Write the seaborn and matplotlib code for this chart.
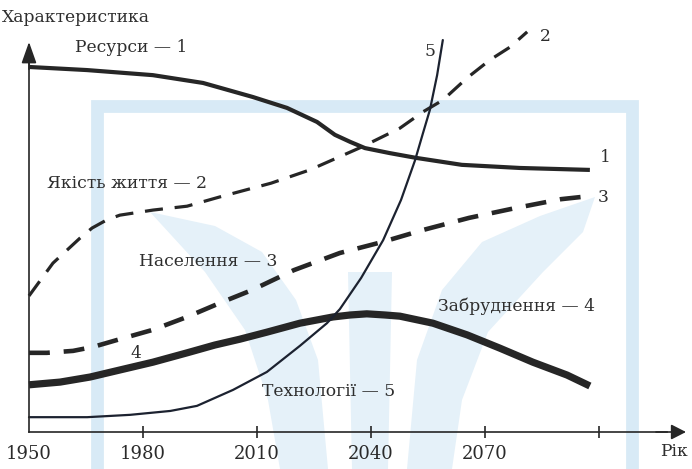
import matplotlib
matplotlib.use("Agg")
import matplotlib.pyplot as plt
from matplotlib.patches import Polygon
from matplotlib.transforms import Affine2D
import seaborn as sns
import pandas as pd

# ---- series (year, relative level 0..100) ----
resources_year = [1950.0, 1965.3, 1982.6, 1995.8, 2008.9, 2017.9, 2025.8, 2030.5, 2034.5, 2038.4,
                  2045.0, 2051.8, 2063.9, 2079.2, 2097.6]
resources_val = [93.6, 92.8, 91.5, 89.5, 85.9, 83.1, 79.5, 76.2, 74.4, 72.8,
                 71.5, 70.3, 68.5, 67.7, 67.2]

quality_year = [1950.0, 1956.3, 1963.4, 1966.6, 1970.5, 1973.9, 1982.6, 1991.6, 2000.3, 2013.7,
                2023.9, 2037.6, 2047.6, 2053.7, 2058.9, 2065.3, 2071.3, 2076.6, 2081.1]
quality_val = [34.9, 43.3, 49.7, 52.3, 54.4, 55.6, 56.9, 57.9, 60.3, 63.8,
               67.2, 73.1, 77.9, 82.1, 85.1, 90.8, 95.4, 98.7, 102.6]

population_year = [1950.0, 1954.7, 1961.6, 1966.8, 1973.9, 1982.6, 1991.6, 2000.3, 2008.7, 2019.7,
                   2031.8, 2042.9, 2053.7, 2065.8, 2077.9, 2090.0, 2097.6]
population_val = [20.3, 20.3, 20.8, 21.8, 23.8, 26.2, 29.5, 33.1, 36.4, 41.5,
                  45.9, 48.7, 51.8, 54.9, 57.4, 59.7, 60.5]

pollution_year = [1950.0, 1958.2, 1966.1, 1973.9, 1982.6, 1991.6, 1998.9, 2005.5, 2012.6, 2021.3,
                  2030.0, 2034.5, 2038.9, 2043.7, 2047.6, 2056.3, 2065.3, 2073.9, 2082.6, 2091.6, 2097.6]
pollution_val = [12.1, 12.8, 14.1, 15.9, 17.9, 20.3, 22.3, 23.8, 25.6, 27.9,
                 29.5, 30.0, 30.3, 30.0, 29.7, 27.9, 24.9, 21.5, 17.9, 14.6, 11.8]

tech_year = [1950.0, 1965.3, 1976.6, 1987.2, 1994.2, 2003.7, 2012.6, 2021.3, 2028.4, 2031.8, 2037.4,
             2043.2, 2047.9, 2051.6, 2053.7, 2055.5, 2057.4, 2058.9]
tech_val = [3.8, 3.8, 4.4, 5.4, 6.7, 10.8, 15.4, 22.1, 27.9, 31.5, 39.5,
            49.2, 59.5, 69.7, 76.7, 82.6, 91.5, 100.5]

tick_years = [1950, 1980, 2010, 2040, 2070, 2100]
tick_labels = ["1950", "1980", "2010", "2040", "2070", ""]

sns.set_theme(style="white")
plt.rcParams["font.family"] = ["DejaVu Serif"]
plt.rcParams["lines.scale_dashes"] = False

W, H = 692, 469
fig = plt.figure(figsize=(W / 100, H / 100), dpi=100)
fig.patch.set_facecolor("white")
ax = fig.add_axes([0, 0, 1, 1])
ax.set_facecolor("none")

# pale emblem in the background, placed in pixel units
px = Affine2D().scale(1 / W, -1 / H).translate(0, 1) + fig.transFigure
frame_col = "#d8eaf6"
emblem_col = "#e5f1f9"
frame = [(96.5, 469), (96.5, 106.5), (632, 106.5), (632, 469)]
ax.plot([p[0] for p in frame], [p[1] for p in frame], transform=px, color=frame_col,
        lw=9.2, solid_joinstyle="miter", zorder=0)
emblem = [
    [(150, 212), (215, 226), (262, 252), (296, 300), (318, 360), (328, 469), (280, 469), (268, 400), (245, 330), (205, 272)],
    [(595, 197), (540, 216), (482, 242), (442, 290), (417, 360), (407, 469), (452, 469), (462, 400), (488, 332), (543, 272), (583, 232)],
    [(348, 272), (392, 272), (388, 469), (352, 469)],
]
for poly in emblem:
    fig.add_artist(Polygon(poly, closed=True, transform=px, facecolor=emblem_col,
                           edgecolor="none", zorder=0))

ax.set_xlim(1950 - 29 / 3.8, 1950 + 663 / 3.8)
ax.set_ylim(-37 / 3.9, 432 / 3.9)

ink = "#262626"


def draw(xs, ys, color=ink, **kw):
    df = pd.DataFrame({"year": xs, "value": ys})
    sns.lineplot(data=df, x="year", y="value", ax=ax, estimator=None, sort=False,
                 color=color, **kw)


draw(resources_year, resources_val, linewidth=3.0, solid_capstyle="butt", solid_joinstyle="round")
draw(quality_year, quality_val, linewidth=2.3, dashes=(13, 8.5))
draw(population_year, population_val, linewidth=3.3, dashes=(15, 10))
draw(pollution_year, pollution_val, linewidth=5.2, solid_capstyle="butt", solid_joinstyle="round")
draw(tech_year, tech_val, color="#1c2230", linewidth=1.6, solid_joinstyle="round")

# axes through the origin with arrow heads
for side in ("top", "right"):
    ax.spines[side].set_visible(False)
ax.spines["bottom"].set_position(("data", 0))
ax.spines["left"].set_position(("data", 1950))
ax.spines["bottom"].set_bounds(1950, 2118)
ax.spines["left"].set_bounds(0, 96)
for side in ("bottom", "left"):
    ax.spines[side].set_color(ink)
    ax.spines[side].set_linewidth(1.2)
    ax.spines[side].set_zorder(3)

ax.annotate("", xy=(1950 + 657 / 3.8, 0), xytext=(2115, 0),
            arrowprops=dict(arrowstyle="-|>,head_length=9,head_width=4.6", mutation_scale=1,
                            color=ink, lw=1.2, shrinkA=0, shrinkB=0))
ax.annotate("", xy=(1950, 100), xytext=(1950, 93),
            arrowprops=dict(arrowstyle="-|>,head_length=13,head_width=4.6", mutation_scale=1,
                            color=ink, lw=1.2, shrinkA=0, shrinkB=0))

ax.set_xticks(tick_years)
ax.set_xticklabels(tick_labels)
ax.set_yticks([])
ax.tick_params(axis="x", direction="inout", length=8, width=1.2, color=ink, pad=5,
               labelsize=13, labelcolor="#2a2a2a", bottom=True)
ax.xaxis.get_major_ticks()[0].tick1line.set_visible(False)
ax.set_xlabel("")
ax.set_ylabel("")

txt = dict(color="#2e2e2e", fontsize=12.3, va="center")
ax.text(1950 - 27 / 3.8, (432 - 17) / 3.9, "Характеристика", ha="left", **txt)
ax.text(1950 + 46 / 3.8, (432 - 48) / 3.9, "Ресурси — 1", ha="left", **txt)
ax.text(1950 + 18 / 3.8, (432 - 183) / 3.9, "Якість життя — 2", ha="left", **txt)
ax.text(1950 + 110 / 3.8, (432 - 262) / 3.9, "Населення — 3", ha="left", **txt)
ax.text(1950 + 409 / 3.8, (432 - 306) / 3.9, "Забруднення — 4", ha="left", **txt)
ax.text(1950 + 233 / 3.8, (432 - 392) / 3.9, "Технології — 5", ha="left", **txt)
ax.text(1950 + 631 / 3.8, -5.1, "Рік", ha="left", **txt)

ax.text(1950 + 576 / 3.8, (432 - 158) / 3.9, "1", ha="center", **txt)
ax.text(1950 + 516 / 3.8, (432 - 37) / 3.9, "2", ha="center", **txt)
ax.text(1950 + 574 / 3.8, (432 - 198) / 3.9, "3", ha="center", **txt)
ax.text(1950 + 107 / 3.8, (432 - 353) / 3.9, "4", ha="center", **txt)
ax.text(1950 + 401 / 3.8, (432 - 52) / 3.9, "5", ha="center", **txt)

fig.savefig("out.png", dpi=100, facecolor="white")
